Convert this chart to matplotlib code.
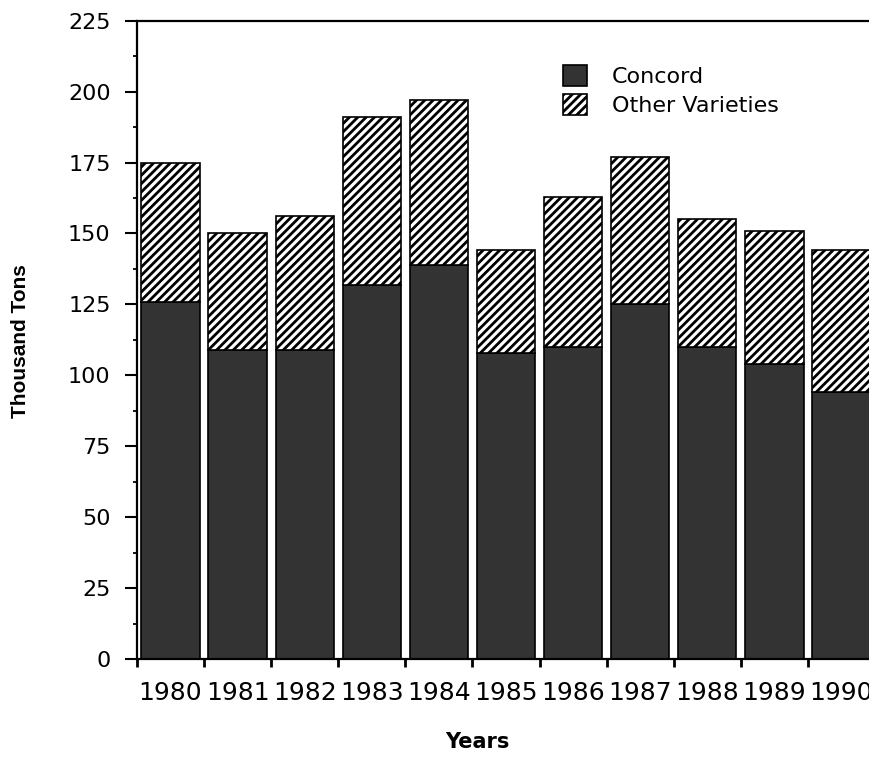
import numpy as np
import matplotlib
matplotlib.use("Agg")
import matplotlib.pyplot as plt
from matplotlib.patches import Patch
from matplotlib.ticker import MultipleLocator

# Grape production, thousand tons
years = ["1980", "1981", "1982", "1983", "1984", "1985",
         "1986", "1987", "1988", "1989", "1990"]
concord = [126, 109, 109, 132, 139, 108, 110, 125, 110, 104, 94]
other_varieties = [49, 41, 47, 59, 58, 36, 53, 52, 45, 47, 50]

plt.rcParams["hatch.linewidth"] = 2.0
plt.rcParams["font.family"] = ["DejaVu Sans"]

W, H = 869, 758
fig = plt.figure(figsize=(W / 100, H / 100), dpi=100)
# axes run slightly past the right edge of the figure, as in the scan
ax = fig.add_axes([137 / W, 1 - 659 / H, 738 / W, 638.3 / H])

x = np.arange(len(years)) + 0.5
dark = "#333333"
ax.bar(x, concord, width=0.87, color=dark, edgecolor="black", linewidth=1.2)
ax.bar(x, other_varieties, width=0.87, bottom=concord, color="white",
       edgecolor="black", linewidth=1.2, hatch="////")

ax.set_xlim(0, len(years))
ax.set_ylim(0, 225)

# y axis: labelled majors every 25, small minors in between
ax.yaxis.set_major_locator(MultipleLocator(25))
ax.yaxis.set_minor_locator(MultipleLocator(12.5))
ax.tick_params(axis="y", which="major", direction="out", length=9, width=1.5,
               pad=10, labelsize=16)
ax.tick_params(axis="y", which="minor", direction="out", length=3, width=1.3)

# x axis: ticks at slot boundaries, labels at bar centres
ax.set_xticks(x, years)
ax.set_xticks(np.arange(len(years) + 1), minor=True)
ax.tick_params(axis="x", which="major", length=0, pad=16, labelsize=18)
ax.tick_params(axis="x", which="minor", direction="out", length=6, width=2)

for side in ["left", "bottom", "top"]:
    ax.spines[side].set_linewidth(1.6)
ax.spines["right"].set_visible(False)

fig.text(21 / W, 1 - 341 / H, "Thousand Tons", rotation=90, ha="center",
         va="center", fontsize=15, fontweight="bold", family="Liberation Sans")
fig.text(477 / W, 1 - 742 / H, "Years", ha="center", va="center",
         fontsize=15, fontweight="bold")

handles = [Patch(facecolor=dark, edgecolor="black", linewidth=1.2, label="Concord"),
           Patch(facecolor="white", edgecolor="black", linewidth=1.2, hatch="////",
                 label="Other Varieties")]
fig.legend(handles=handles, loc="upper left", bbox_to_anchor=(563 / W, 1 - 65 / H),
           frameon=False, fontsize=16, borderpad=0, borderaxespad=0,
           handlelength=1.1, handleheight=1.1, handletextpad=1.1, labelspacing=0.3)

fig.savefig("out.png", dpi=100)
